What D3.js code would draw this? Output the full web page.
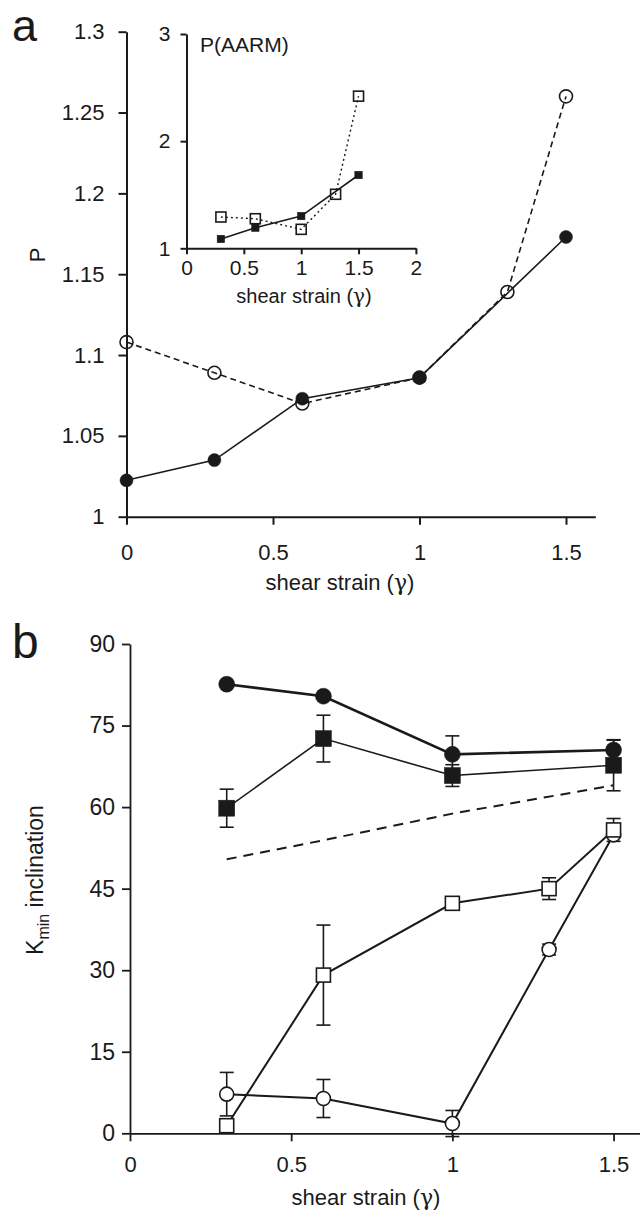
<!DOCTYPE html>
<html>
<head>
<meta charset="utf-8">
<title>P and Kmin inclination vs shear strain</title>
<script src="https://d3js.org/d3.v7.min.js"></script>
<style>
body { margin: 0; background: #fff; }
text { font-family: "Liberation Sans", Arial, sans-serif; fill: #1a1a1a; }
</style>
</head>
<body>
<script type="text/javascript">

// ---- panel a : anisotropy degree P
var aFilledX = [0, 0.3, 0.6, 1.0, 1.5];
var aFilledP = [1.0225, 1.035, 1.073, 1.086, 1.173];
var aOpenX = [0, 0.3, 0.6, 1.0, 1.3, 1.5];
var aOpenP = [1.108, 1.089, 1.070, 1.086, 1.139, 1.260];
var aXTicks = [0, 0.5, 1, 1.5];
var aXLabels = ["0", "0.5", "1", "1.5"];
var aYTicks = [1, 1.05, 1.1, 1.15, 1.2, 1.25, 1.3];
var aYLabels = ["1", "1.05", "1.1", "1.15", "1.2", "1.25", "1.3"];

// ---- inset : P(AARM)
var inFilledX = [0.3, 0.6, 1.0, 1.5];
var inFilledP = [1.087, 1.192, 1.301, 1.684];
var inOpenX = [0.3, 0.6, 1.0, 1.3, 1.5];
var inOpenP = [1.292, 1.276, 1.177, 1.504, 2.42];
var inXTicks = [0, 0.5, 1, 1.5, 2];
var inXLabels = ["0", "0.5", "1", "1.5", "2"];
var inYTicks = [1, 2, 3];
var inYLabels = ["1", "2", "3"];

// ---- panel b : Kmin inclination
var bFilledCircX = [0.3, 0.6, 1.0, 1.5];
var bFilledCirc = [82.6, 80.4, 69.7, 70.5];
var bFilledCircErr = [0, 0, 3.4, 1.8];
var bFilledSqX = [0.3, 0.6, 1.0, 1.5];
var bFilledSq = [59.8, 72.6, 65.8, 67.7];
var bFilledSqErr = [3.5, 4.3, 2.0, 4.7];
var bOpenSqX = [0.3, 0.6, 1.0, 1.3, 1.5];
var bOpenSq = [1.4, 29.1, 42.3, 45.0, 55.8];
var bOpenSqErr = [0, 9.2, 0, 2.0, 2.1];
var bOpenCircX = [0.3, 0.6, 1.0, 1.3, 1.5];
var bOpenCirc = [7.2, 6.4, 1.8, 33.8, 54.9];
var bOpenCircErr = [4.0, 3.5, 2.4, 1.0, 0];
var bRefX = [0.3, 0.6, 1.0, 1.5];
var bRefY = [50.4, 53.9, 58.8, 64.0];
var bXTicks = [0, 0.5, 1, 1.5];
var bXLabels = ["0", "0.5", "1", "1.5"];
var bYTicks = [0, 15, 30, 45, 60, 75, 90];

var width = 640;
var height = 1214;
var ink = "#1a1a1a";

var svg = d3.select("body")
            .append("svg")
            .attr("width", width)
            .attr("height", height);

var xA = d3.scaleLinear().domain([0, 1.6]).range([126.5, 595.3]);
var yA = d3.scaleLinear().domain([1, 1.3]).range([516.7, 31.7]);
var xI = d3.scaleLinear().domain([0, 2]).range([186.5, 415.9]);
var yI = d3.scaleLinear().domain([1, 3]).range([248.3, 34]);
var xB = d3.scaleLinear().domain([0, 1.582]).range([130, 640]);
var yB = d3.scaleLinear().domain([0, 90]).range([1133.3, 644]);

function styleAxis(g, size, width) {
  g.attr("font-family", null).attr("font-size", null);
  g.select(".domain").attr("stroke", ink).attr("stroke-width", width);
  g.selectAll(".tick line").attr("stroke", ink).attr("stroke-width", width);
  g.selectAll(".tick text").style("font-size", size + "px");
}

function labelsFrom(ticks, labels) {
  return function(d) { return labels[ticks.indexOf(d)]; };
}

// "shear strain (γ)" with a proper greek gamma
function strainLabel(g, x, y, size) {
  var t = g.append("text").attr("x", x).attr("y", y)
           .attr("text-anchor", "middle")
           .style("font-size", size + "px");
  t.append("tspan").text("shear strain (");
  t.append("tspan").style("font-family", "'DejaVu Serif', serif")
   .style("font-style", "normal").text("\u03b3");
  t.append("tspan").text(")");
  return t;
}

function drawLine(g, xs, ys, xs_, ys_, w, dash) {
  var line = d3.line().x(function(d){ return xs_(d[0]); })
                      .y(function(d){ return ys_(d[1]); });
  g.append("path")
   .datum(d3.zip(xs, ys))
   .attr("d", line)
   .attr("fill", "none")
   .attr("stroke", ink)
   .attr("stroke-width", w)
   .attr("stroke-dasharray", dash);
}

function drawCircles(g, xs, ys, xs_, ys_, r, fill, w) {
  g.selectAll(null)
   .data(d3.zip(xs, ys))
   .enter()
   .append("circle")
   .attr("cx", function(d){ return xs_(d[0]); })
   .attr("cy", function(d){ return ys_(d[1]); })
   .attr("r", r)
   .attr("fill", fill)
   .attr("stroke", ink)
   .attr("stroke-width", w);
}

function drawSquares(g, xs, ys, xs_, ys_, s, fill, w) {
  g.selectAll(null)
   .data(d3.zip(xs, ys))
   .enter()
   .append("rect")
   .attr("x", function(d){ return xs_(d[0]) - s / 2; })
   .attr("y", function(d){ return ys_(d[1]) - s / 2; })
   .attr("width", s)
   .attr("height", s)
   .attr("fill", fill)
   .attr("stroke", ink)
   .attr("stroke-width", w);
}

function drawErrors(g, xs, ys, errs, xs_, ys_) {
  var data = d3.zip(xs, ys, errs).filter(function(d){ return d[2] > 0; });
  var e = g.selectAll(null).data(data).enter().append("g")
           .attr("stroke", ink).attr("stroke-width", 1.6);
  e.append("line")
   .attr("x1", function(d){ return xs_(d[0]); })
   .attr("x2", function(d){ return xs_(d[0]); })
   .attr("y1", function(d){ return ys_(d[1] - d[2]); })
   .attr("y2", function(d){ return ys_(d[1] + d[2]); });
  [-1, 1].forEach(function(sgn) {
    e.append("line")
     .attr("x1", function(d){ return xs_(d[0]) - 7; })
     .attr("x2", function(d){ return xs_(d[0]) + 7; })
     .attr("y1", function(d){ return ys_(d[1] + sgn * d[2]); })
     .attr("y2", function(d){ return ys_(d[1] + sgn * d[2]); });
  });
}

// ================= panel a
var gA = svg.append("g");

gA.append("g")
  .attr("transform", "translate(0," + yA(1) + ")")
  .call(d3.axisBottom(xA).tickValues(aXTicks).tickFormat(labelsFrom(aXTicks, aXLabels))
          .tickSizeInner(8).tickSizeOuter(0).tickPadding(20))
  .call(styleAxis, 22, 2);

gA.append("g")
  .attr("transform", "translate(" + xA(0) + ",0)")
  .call(d3.axisLeft(yA).tickValues(aYTicks).tickFormat(labelsFrom(aYTicks, aYLabels))
          .tickSizeInner(8).tickSizeOuter(0).tickPadding(14))
  .call(styleAxis, 22, 2);

drawLine(gA, aOpenX, aOpenP, xA, yA, 1.6, "6,4");
drawLine(gA, aFilledX, aFilledP, xA, yA, 1.6, null);
drawCircles(gA, aOpenX, aOpenP, xA, yA, 6.5, "none", 1.6);
drawCircles(gA, aFilledX, aFilledP, xA, yA, 6.5, ink, 0.5);

gA.append("text").attr("x", 12).attr("y", 41)
  .style("font-size", "45px").text("a");
gA.append("text")
  .attr("transform", "translate(45,255) rotate(-90)")
  .attr("text-anchor", "middle")
  .style("font-size", "22px").text("P");
strainLabel(gA, 340, 590, 22);

// ================= inset
var gI = svg.append("g");

gI.append("g")
  .attr("transform", "translate(0," + yI(1) + ")")
  .call(d3.axisBottom(xI).tickValues(inXTicks).tickFormat(labelsFrom(inXTicks, inXLabels))
          .tickSizeInner(6).tickSizeOuter(0).tickPadding(6))
  .call(styleAxis, 21, 2);

gI.append("g")
  .attr("transform", "translate(" + xI(0) + ",0)")
  .call(d3.axisLeft(yI).tickValues(inYTicks).tickFormat(labelsFrom(inYTicks, inYLabels))
          .tickSizeInner(6).tickSizeOuter(0).tickPadding(10))
  .call(styleAxis, 21, 2);

drawLine(gI, inOpenX, inOpenP, xI, yI, 1.4, "2,3");
drawLine(gI, inFilledX, inFilledP, xI, yI, 1.6, null);
drawSquares(gI, inOpenX, inOpenP, xI, yI, 10, "none", 1.6);
drawSquares(gI, inFilledX, inFilledP, xI, yI, 7.5, ink, 0.5);

gI.append("text").attr("x", 200).attr("y", 52)
  .style("font-size", "21px").text("P(AARM)");
strainLabel(gI, 304, 303, 20);

// ================= panel b
var gB = svg.append("g");

gB.append("g")
  .attr("transform", "translate(0," + yB(0) + ")")
  .call(d3.axisBottom(xB).tickValues(bXTicks).tickFormat(labelsFrom(bXTicks, bXLabels))
          .tickSizeInner(8).tickSizeOuter(0).tickPadding(15))
  .call(styleAxis, 22, 1.8);

gB.append("g")
  .attr("transform", "translate(" + xB(0) + ",0)")
  .call(d3.axisLeft(yB).tickValues(bYTicks).tickFormat(d3.format("d"))
          .tickSizeInner(8).tickSizeOuter(0).tickPadding(7))
  .call(styleAxis, 23, 1.8);

drawLine(gB, bRefX, bRefY, xB, yB, 2, "10,7");

drawErrors(gB, bOpenCircX, bOpenCirc, bOpenCircErr, xB, yB);
drawErrors(gB, bOpenSqX, bOpenSq, bOpenSqErr, xB, yB);
drawErrors(gB, bFilledSqX, bFilledSq, bFilledSqErr, xB, yB);
drawErrors(gB, bFilledCircX, bFilledCirc, bFilledCircErr, xB, yB);

drawLine(gB, bOpenCircX, bOpenCirc, xB, yB, 2, null);
drawLine(gB, bOpenSqX, bOpenSq, xB, yB, 2, null);
drawLine(gB, bFilledSqX, bFilledSq, xB, yB, 1.6, null);
drawLine(gB, bFilledCircX, bFilledCirc, xB, yB, 2.6, null);

drawCircles(gB, bOpenCircX, bOpenCirc, xB, yB, 7, "#fff", 1.6);
drawSquares(gB, bOpenSqX, bOpenSq, xB, yB, 14, "#fff", 1.6);
drawSquares(gB, bFilledSqX, bFilledSq, xB, yB, 16, ink, 0.5);
drawCircles(gB, bFilledCircX, bFilledCirc, xB, yB, 8, ink, 0.5);

gB.append("text").attr("x", 12).attr("y", 658)
  .style("font-size", "48px").text("b");

var kLabel = gB.append("text")
  .attr("transform", "translate(43,880) rotate(-90)")
  .attr("text-anchor", "middle")
  .style("font-size", "23px");
kLabel.append("tspan").text("K");
kLabel.append("tspan").attr("dy", 6).style("font-size", "16px").text("min");
kLabel.append("tspan").attr("dy", -6).text(" inclination");

strainLabel(gB, 366, 1205, 22);

</script>
</body>
</html>
